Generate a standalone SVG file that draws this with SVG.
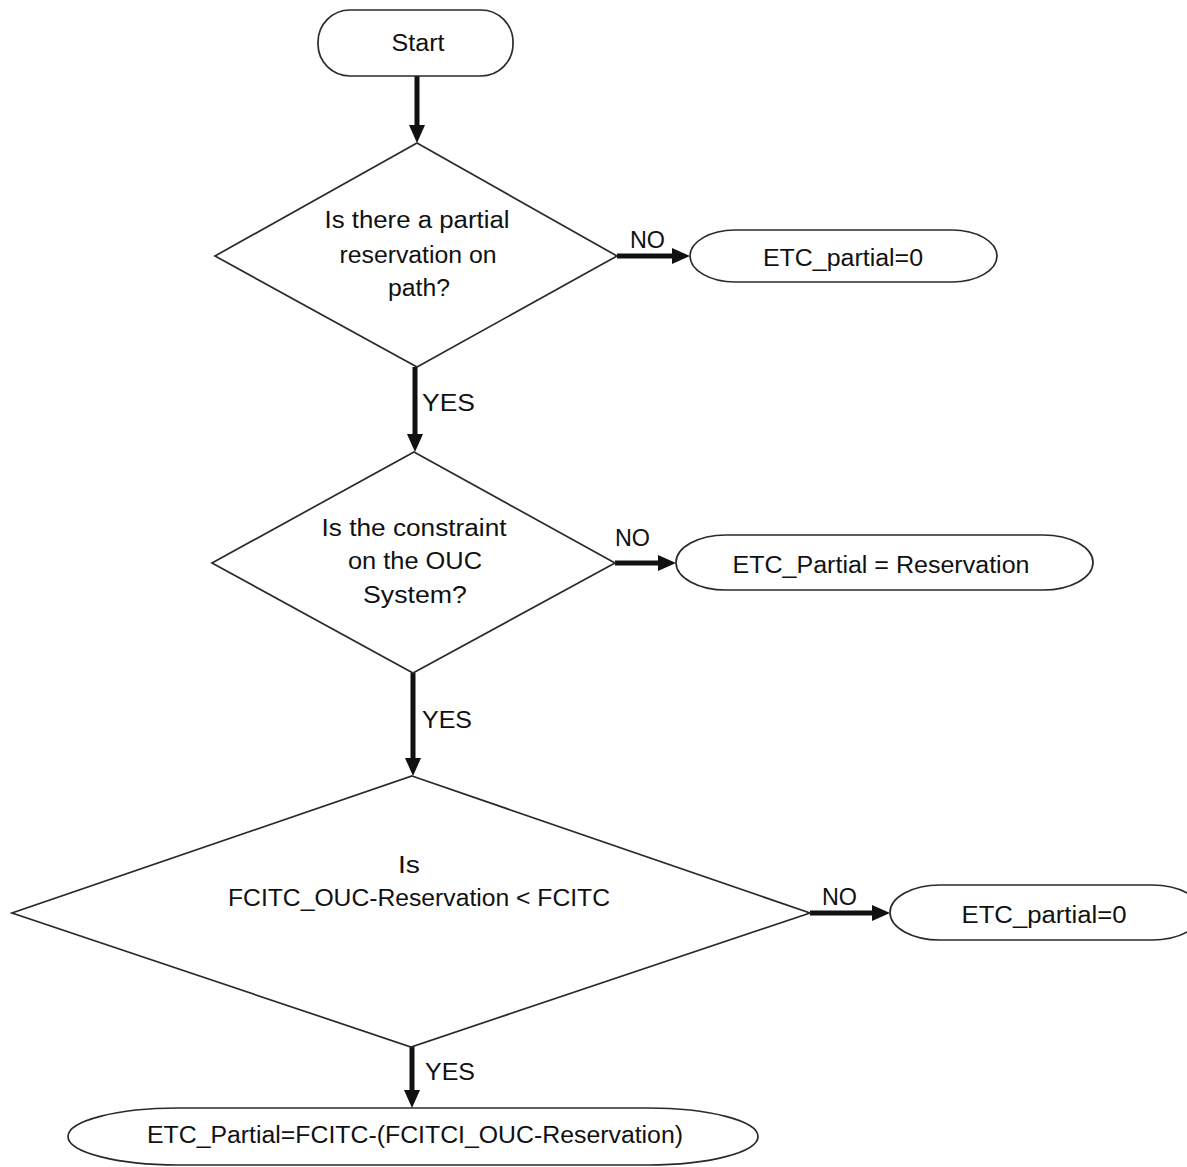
<svg xmlns="http://www.w3.org/2000/svg" width="1187" height="1167" viewBox="0 0 1187 1167">
<style>
.shape{fill:#fff;stroke:#2a2a2a;stroke-width:1.7}
.t{font-family:"Liberation Sans",Arial,sans-serif;font-size:23px;fill:#111;text-anchor:middle}
.l{font-family:"Liberation Sans",Arial,sans-serif;font-size:23px;fill:#111}
.arrow{stroke:#111;stroke-width:5;fill:none;marker-end:url(#ah)}
</style>
<defs>
<marker id="ah" markerUnits="userSpaceOnUse" markerWidth="18" markerHeight="16" refX="8" refY="8" orient="auto">
<path d="M0,0 L18,8 L0,16 z" fill="#111"/>
</marker>
</defs>
<rect width="1187" height="1167" fill="#fff"/>
<g id="connectors">
<line class="arrow" x1="417" y1="76" x2="417" y2="133"/>
<line class="arrow" x1="617" y1="256" x2="680" y2="256"/>
<line class="arrow" x1="415" y1="367" x2="415" y2="442"/>
<line class="arrow" x1="615" y1="563" x2="666" y2="563"/>
<line class="arrow" x1="413" y1="673" x2="413" y2="766"/>
<line class="arrow" x1="810" y1="913" x2="880" y2="913"/>
<line class="arrow" x1="412" y1="1047" x2="412" y2="1098"/>
<text class="l" x="630" y="248" textLength="35" lengthAdjust="spacingAndGlyphs">NO</text>
<text class="l" x="422" y="411" textLength="53" lengthAdjust="spacingAndGlyphs">YES</text>
<text class="l" x="615" y="546" textLength="35" lengthAdjust="spacingAndGlyphs">NO</text>
<text class="l" x="422" y="728" textLength="50" lengthAdjust="spacingAndGlyphs">YES</text>
<text class="l" x="822" y="905" textLength="35" lengthAdjust="spacingAndGlyphs">NO</text>
<text class="l" x="425" y="1080" textLength="50" lengthAdjust="spacingAndGlyphs">YES</text>
</g>
<g id="start">
<rect class="shape" x="318" y="10" width="195" height="66" rx="32" ry="32"/>
<text class="t" x="418" y="51" textLength="53" lengthAdjust="spacingAndGlyphs">Start</text>
</g>
<g id="decision1">
<polygon class="shape" points="417,143 617,256 417,367 215,256"/>
<text class="t" x="417" y="228" textLength="185" lengthAdjust="spacingAndGlyphs">Is there a partial</text>
<text class="t" x="418" y="263" textLength="157" lengthAdjust="spacingAndGlyphs">reservation on</text>
<text class="t" x="419" y="296" textLength="62" lengthAdjust="spacingAndGlyphs">path?</text>
</g>
<g id="result1">
<rect class="shape" x="690" y="230" width="307" height="52" rx="45" ry="26"/>
<text class="t" x="843" y="266" textLength="160" lengthAdjust="spacingAndGlyphs">ETC_partial=0</text>
</g>
<g id="decision2">
<polygon class="shape" points="414,452 615,563 413,673 212,563"/>
<text class="t" x="414" y="536" textLength="185" lengthAdjust="spacingAndGlyphs">Is the constraint</text>
<text class="t" x="415" y="569" textLength="134" lengthAdjust="spacingAndGlyphs">on the OUC</text>
<text class="t" x="415" y="603" textLength="104" lengthAdjust="spacingAndGlyphs">System?</text>
</g>
<g id="result2">
<rect class="shape" x="676" y="535" width="417" height="55" rx="50" ry="27.5"/>
<text class="t" x="881" y="573" textLength="297" lengthAdjust="spacingAndGlyphs">ETC_Partial = Reservation</text>
</g>
<g id="decision3">
<polygon class="shape" points="412,776 810,913 411,1047 12,913"/>
<text class="t" x="409" y="873" textLength="22" lengthAdjust="spacingAndGlyphs">Is</text>
<text class="t" x="419" y="906" textLength="382" lengthAdjust="spacingAndGlyphs">FCITC_OUC-Reservation &lt; FCITC</text>
</g>
<g id="result3">
<rect class="shape" x="890" y="885" width="312" height="55" rx="50" ry="27.5"/>
<text class="t" x="1044" y="923" textLength="165" lengthAdjust="spacingAndGlyphs">ETC_partial=0</text>
</g>
<g id="result4">
<rect class="shape" x="68" y="1108" width="690" height="57" rx="110" ry="28.5"/>
<text class="t" x="415" y="1143" textLength="536" lengthAdjust="spacingAndGlyphs">ETC_Partial=FCITC-(FCITCI_OUC-Reservation)</text>
</g>
</svg>
